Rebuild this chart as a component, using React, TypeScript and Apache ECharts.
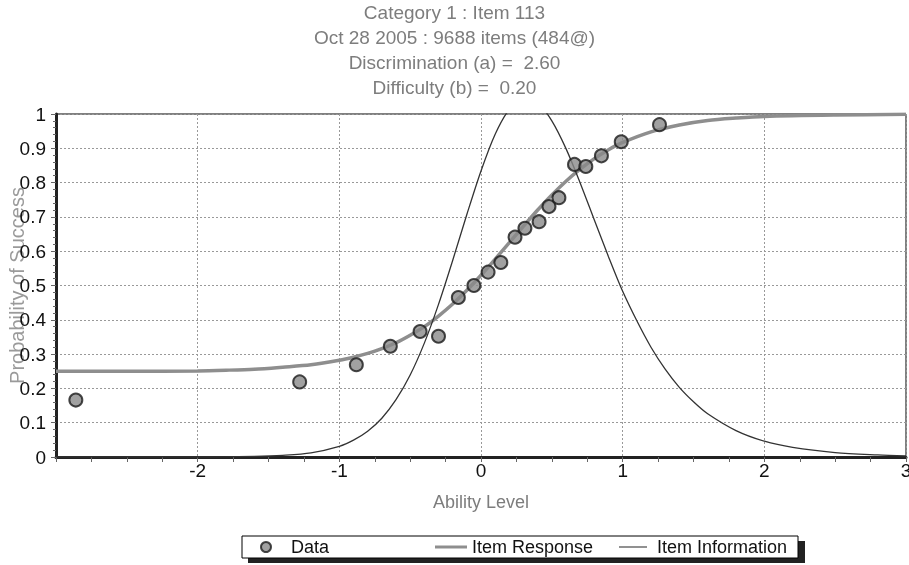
import React, { useEffect, useRef } from "react";
import * as echarts from "echarts";

const titleLines = [
  "Category 1 : Item 113",
  "Oct 28 2005 : 9688 items (484@)",
  "Discrimination (a) =  2.60",
  "Difficulty (b) =  0.20",
];

// observed proportions (ability, probability)
const dataX = [-2.86, -1.28, -0.88, -0.64, -0.43, -0.3, -0.16, -0.05, 0.05, 0.14, 0.24, 0.31, 0.41, 0.48, 0.55, 0.66, 0.74, 0.85, 0.99, 1.26];
const dataY = [0.166, 0.219, 0.269, 0.323, 0.366, 0.352, 0.465, 0.5, 0.539, 0.567, 0.641, 0.667, 0.686, 0.73, 0.756, 0.853, 0.847, 0.878, 0.919, 0.969];

// item response curve readings
const respX = [-3, -2.5, -2, -1.8, -1.6, -1.4, -1.2, -1, -0.9, -0.8, -0.7, -0.6, -0.5, -0.4, -0.3, -0.2, -0.1, 0, 0.1, 0.2, 0.3, 0.4, 0.5, 0.6, 0.7, 0.8, 0.9, 1, 1.2, 1.4, 1.6, 1.8, 2, 2.5, 3];
const respY = [0.25, 0.25, 0.251, 0.253, 0.256, 0.262, 0.269, 0.282, 0.291, 0.302, 0.316, 0.333, 0.355, 0.38, 0.411, 0.446, 0.486, 0.53, 0.577, 0.625, 0.673, 0.72, 0.764, 0.804, 0.839, 0.87, 0.896, 0.917, 0.948, 0.968, 0.981, 0.988, 0.993, 0.997, 0.999];

// item information curve readings
const infoX = [-3, -2, -1.6, -1.4, -1.2, -1, -0.9, -0.8, -0.7, -0.6, -0.5, -0.4, -0.3, -0.2, -0.1, 0, 0.1, 0.2, 0.3, 0.4, 0.5, 0.6, 0.7, 0.8, 0.9, 1, 1.1, 1.2, 1.3, 1.4, 1.5, 1.6, 1.8, 2, 2.2, 2.5, 2.8, 3];
const infoY = [0, 0, 0.002, 0.005, 0.012, 0.031, 0.049, 0.075, 0.113, 0.167, 0.239, 0.332, 0.445, 0.573, 0.707, 0.834, 0.941, 1.014, 1.048, 1.033, 0.98, 0.899, 0.799, 0.691, 0.584, 0.483, 0.397, 0.32, 0.256, 0.203, 0.161, 0.126, 0.077, 0.046, 0.028, 0.013, 0.006, 0.003];

const FONT = "'Liberation Sans', Arial, sans-serif";

export default function App() {
  const ref = useRef<HTMLDivElement>(null);
  useEffect(() => {
    if (!ref.current) return;
    const chart = echarts.init(ref.current, null, { renderer: "svg" });
    const zip = (xs: number[], ys: number[]) => xs.map((x, i) => [x, ys[i]]);
    const legendText = { fontSize: 18, color: "#111", fontFamily: FONT };
    chart.setOption({
      animation: false,
      textStyle: { fontFamily: FONT },
      title: {
        text: titleLines.join("\n"),
        left: "center",
        top: 0,
        padding: 0,
        textStyle: { fontSize: 19, fontWeight: "normal", color: "#7d7d7d", lineHeight: 25, fontFamily: FONT },
      },
      grid: {
        left: 56, right: 3, top: 114, bottom: 108,
        outerBoundsMode: "none",
        containLabel: false,
        show: true, borderColor: "#000", borderWidth: 1, backgroundColor: "transparent",
      },
      xAxis: {
        type: "value",
        min: -3,
        max: 3,
        interval: 1,
        name: "Ability Level",
        nameLocation: "middle",
        nameGap: 36,
        nameMoveOverlap: false,
        nameTextStyle: { fontSize: 18, color: "#7d7d7d", fontFamily: FONT },
        axisLine: { show: true, onZero: false, lineStyle: { color: "#222", width: 3 } },
        axisTick: { show: true, length: 5, lineStyle: { color: "#666" } },
        minorTick: { show: true, splitNumber: 4, length: 5, lineStyle: { color: "#666" } },
        axisLabel: { showMinLabel: false, hideOverlap: false, fontSize: 19, color: "#111", margin: 4, fontFamily: FONT },
        splitLine: { show: true, lineStyle: { color: "#999", type: [2, 2], width: 1 } },
      },
      yAxis: {
        type: "value",
        min: 0,
        max: 1,
        interval: 0.1,
        name: "Probability of Success",
        nameLocation: "middle",
        nameGap: 29,
        nameRotate: 90,
        nameMoveOverlap: false,
        nameTextStyle: { fontSize: 20, color: "#9a9a9a", fontFamily: FONT },
        axisLine: { show: true, onZero: false, lineStyle: { color: "#222", width: 3 } },
        axisTick: { show: true, length: 5, lineStyle: { color: "#666" } },
        minorTick: { show: true, splitNumber: 5, length: 3, lineStyle: { color: "#666" } },
        axisLabel: { fontSize: 19, color: "#111", margin: 10, fontFamily: FONT },
        splitLine: { show: true, lineStyle: { color: "#999", type: [2, 2], width: 1 } },
      },
      legend: [
        {
          data: ["Data"],
          left: 260,
          top: 538,
          padding: 0,
          icon: "circle",
          itemWidth: 10,
          itemHeight: 10,
          textStyle: { ...legendText, padding: [0, 0, 0, 15] },
          selectedMode: false,
        },
        {
          data: ["Item Response"],
          left: 435,
          top: 538,
          padding: 0,
          icon: "rect",
          itemWidth: 32,
          itemHeight: 3,
          textStyle: legendText,
          selectedMode: false,
        },
        {
          data: ["Item Information"],
          left: 619,
          top: 538,
          padding: 0,
          icon: "rect",
          itemWidth: 28,
          itemHeight: 1,
          textStyle: { ...legendText, padding: [0, 0, 0, 5] },
          selectedMode: false,
        },
      ],
      graphic: [
        { type: "rect", z: 0, shape: { x: 248, y: 541, width: 557, height: 22 }, style: { fill: "#222" } },
        { type: "rect", z: 1, shape: { x: 242, y: 536, width: 556, height: 22 }, style: { fill: "#fff", stroke: "#000", lineWidth: 1 } },
      ],
      series: [
        {
          name: "Item Response",
          type: "line",
          data: zip(respX, respY),
          smooth: 0.3,
          showSymbol: false,
          symbol: "none",
          color: "#8e8e8e",
          itemStyle: { color: "#8e8e8e" },
          lineStyle: { color: "#8e8e8e", width: 3.5 },
          z: 2,
        },
        {
          name: "Item Information",
          type: "line",
          data: zip(infoX, infoY),
          smooth: 0.3,
          showSymbol: false,
          symbol: "none",
          clip: true,
          color: "#222",
          itemStyle: { color: "#222" },
          lineStyle: { color: "#333", width: 1.3 },
          z: 2,
        },
        {
          name: "Data",
          type: "scatter",
          data: zip(dataX, dataY),
          symbol: "circle",
          symbolSize: 13,
          color: "#8a8a8a",
          itemStyle: { color: "#8a8a8a", borderColor: "#1a1a1a", borderWidth: 2 },
          z: 3,
        },
      ],
    });
    return () => chart.dispose();
  }, []);
  return <div ref={ref} style={{ position: "fixed", left: 0, top: 0, width: 909, height: 565 }} />;
}
